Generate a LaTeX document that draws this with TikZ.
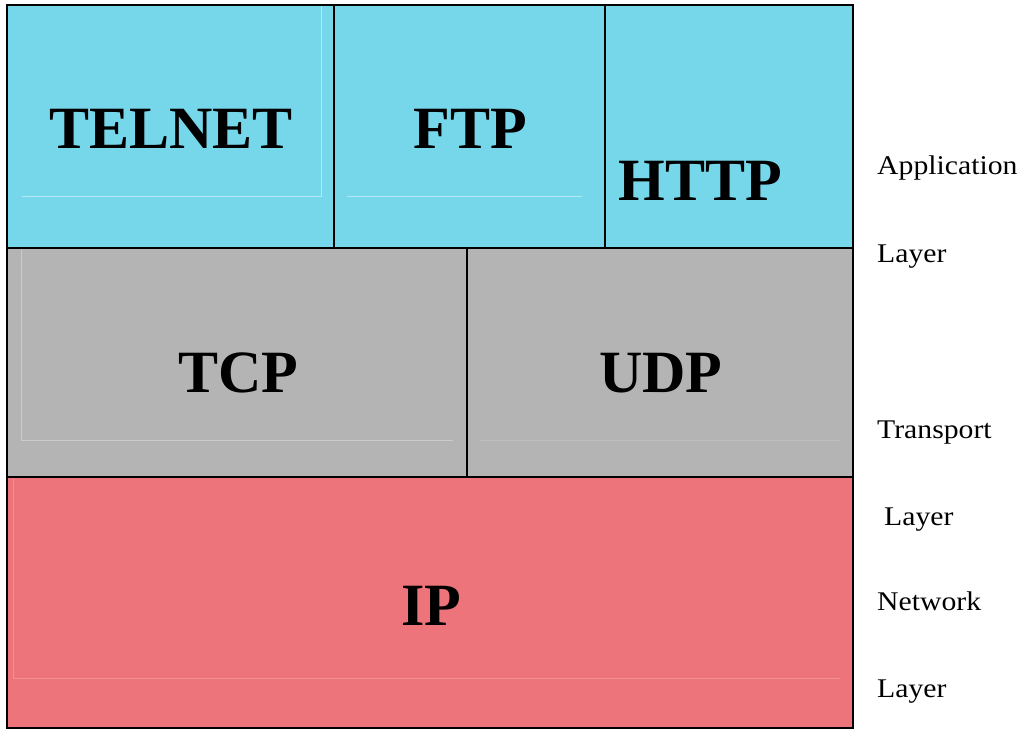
\documentclass[tikz,border=0pt]{standalone}
\usepackage{fontspec}
\setmainfont{Liberation Serif}
\begin{document}
\begin{tikzpicture}[x=1pt,y=-1pt,
  proto/.style={font=\fontsize{60}{60}\selectfont\bfseries, inner sep=0pt},
  layerlabel/.style={font=\fontsize{27}{27}\selectfont, anchor=base west, inner sep=0pt, xscale=1.1},
  cellline/.style={line width=2pt, draw=black},
  ghost/.style={line width=0.7pt}]
\definecolor{appblue}{RGB}{118,214,234}
\definecolor{transgray}{RGB}{180,180,180}
\definecolor{netred}{RGB}{236,116,122}
\useasboundingbox (0,0) rectangle (1025,730);

% layer fills
\fill[appblue]   (7,5)   rectangle (853,248);
\fill[transgray] (7,248) rectangle (853,477);
\fill[netred]    (7,477) rectangle (853,728);

% faint inner text frames
\draw[ghost, draw=white!45!appblue] (22,196) -- (321,196) -- (321,5);
\draw[ghost, draw=white!45!appblue] (347,196) -- (582,196);
\draw[ghost, draw=white!30!transgray] (21,250) -- (21,440) -- (453,440);
\draw[ghost, draw=white!15!transgray] (480,440) -- (840,440);
\draw[ghost, draw=white!20!netred] (13,479) -- (13,678) -- (840,678);

% cell borders
\coordinate (a1) at (334,5);   \coordinate (a2) at (334,248);
\coordinate (b1) at (605,5);   \coordinate (b2) at (605,248);
\coordinate (c1) at (467,248); \coordinate (c2) at (467,477);
\coordinate (r1l) at (7,248);  \coordinate (r1r) at (853,248);
\coordinate (r2l) at (7,477);  \coordinate (r2r) at (853,477);
\draw[cellline] (a1) -- (a2);
\draw[cellline] (b1) -- (b2);
\draw[cellline] (c1) -- (c2);
\draw[cellline] (r1l) -- (r1r);
\draw[cellline] (r2l) -- (r2r);
\draw[line width=2.8pt] (7,5) rectangle (853,728);

% protocol names
\node[proto] (telnet) at (171,129) {TELNET};
\node[proto] (ftp)    at (470,129) {FTP};
\node[proto] (http)   at (700,181) {HTTP};
\node[proto] (tcp)    at (238,373) {TCP};
\node[proto] (udp)    at (661,373) {UDP};
\node[proto] (ip)     at (431,606) {IP};

% layer names on the right
\node[layerlabel] (app1) at (877,175) {Application};
\node[layerlabel] (app2) at (877,262) {Layer};
\node[layerlabel] (tr1)  at (877,438) {Transport};
\node[layerlabel] (tr2)  at (884,525) {Layer};
\node[layerlabel] (nw1)  at (877,610) {Network};
\node[layerlabel] (nw2)  at (877,697) {Layer};
\end{tikzpicture}
\end{document}
